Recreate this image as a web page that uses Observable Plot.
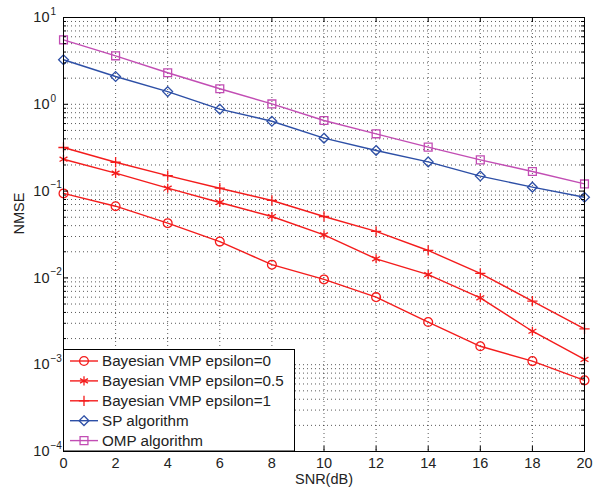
<!DOCTYPE html>
<html>
<head>
<meta charset="utf-8">
<script src="https://cdn.jsdelivr.net/npm/d3@7"></script>
<script src="https://cdn.jsdelivr.net/npm/@observablehq/plot@0.6"></script>
<style>
  html, body { margin: 0; padding: 0; background: #fff; }
  #chart { width: 599px; height: 487px; }
</style>
</head>
<body>
<div id="chart"></div>
<script>
// ---- data ----
const snr = [0, 2, 4, 6, 8, 10, 12, 14, 16, 18, 20];
const vmpEps0  = [0.094, 0.067, 0.0427, 0.0262, 0.0142, 0.0096, 0.0060, 0.0031, 0.00163, 0.0011, 0.00066];
const vmpEps05 = [0.233, 0.161, 0.108, 0.074, 0.051, 0.0313, 0.0166, 0.0109, 0.0059, 0.00243, 0.00115];
const vmpEps1  = [0.318, 0.215, 0.151, 0.108, 0.078, 0.051, 0.0343, 0.0207, 0.0113, 0.0054, 0.00259];
const spAlg    = [3.26, 2.09, 1.40, 0.879, 0.638, 0.407, 0.294, 0.217, 0.149, 0.111, 0.085];
const ompAlg   = [5.53, 3.62, 2.31, 1.51, 1.01, 0.65, 0.457, 0.321, 0.229, 0.168, 0.121];

const seriesNames = ["Bayesian VMP epsilon=0", "Bayesian VMP epsilon=0.5", "Bayesian VMP epsilon=1", "SP algorithm", "OMP algorithm"];
const seriesValues = [vmpEps0, vmpEps05, vmpEps1, spAlg, ompAlg];
const seriesColors = ["#f41c1c", "#f41c1c", "#f41c1c", "#2d4fa6", "#c24db4"];
const seriesSymbols = ["circle", "asterisk", "plus", "diamond2", "square2"];
const seriesR = [4.4, 4.3, 3.4, 4.4, 5.0];

const xTicks = [0, 2, 4, 6, 8, 10, 12, 14, 16, 18, 20];
const yDecades = [1e-4, 1e-3, 1e-2, 1e-1, 1e0, 1e1];
const yExponents = ["\u22124", "\u22123", "\u22122", "\u22121", "0", "1"];
const yMinor = [];
for (let e = -4; e < 1; e++) for (let m = 2; m <= 9; m++) yMinor.push(m * Math.pow(10, e));

// ---- table ----
const rows = [];
seriesNames.forEach((name, s) => {
  snr.forEach((x, i) => rows.push({series: name, s, snr: x, nmse: seriesValues[s][i]}));
});

const W = 599, H = 487, mL = 63, mR = 15, mT = 17, mB = 36;
const plotW = W - mL - mR, plotH = H - mT - mB;
const gridStyle = {stroke: "#000", strokeOpacity: 0.65, strokeDasharray: "1,3", strokeWidth: 1};

const marks = [
  Plot.ruleY(yMinor.concat(yDecades.slice(1, -1)), {y: d => d, ...gridStyle}),
  Plot.ruleX(xTicks.slice(1, -1), {x: d => d, ...gridStyle}),
];
seriesNames.forEach((name, s) => {
  const data = rows.filter(r => r.s === s);
  marks.push(Plot.line(data, {x: "snr", y: "nmse", stroke: seriesColors[s], strokeWidth: 1.4}));
  marks.push(Plot.dot(data, {x: "snr", y: "nmse", symbol: () => seriesSymbols[s], r: seriesR[s],
    stroke: seriesColors[s], fill: "none", strokeWidth: 1.3}));
});
marks.push(
  Plot.frame({stroke: "#000", strokeWidth: 1}),
  Plot.tickX(xTicks, {x: d => d, insetTop: plotH - 5, stroke: "#000"}),
  Plot.tickX(xTicks, {x: d => d, insetBottom: plotH - 5, stroke: "#000"}),
  Plot.tickY(yDecades, {y: d => d, insetRight: plotW - 5, stroke: "#000"}),
  Plot.tickY(yDecades, {y: d => d, insetLeft: plotW - 5, stroke: "#000"}),
  Plot.tickY(yMinor, {y: d => d, insetRight: plotW - 3, stroke: "#000"}),
  Plot.tickY(yMinor, {y: d => d, insetLeft: plotW - 3, stroke: "#000"}),
  Plot.axisX(xTicks, {tickSize: 0, tickPadding: 6, fontSize: 14.5, label: null, fill: "#222"}),
  Plot.text(yDecades, {y: d => d, frameAnchor: "left", text: () => "10", textAnchor: "end", dx: -14, fontSize: 14.5, fill: "#222"}),
  Plot.text(yDecades, {y: d => d, frameAnchor: "left", text: (d, i) => yExponents[i], textAnchor: "start", dx: -13, dy: -6, fontSize: 10, fill: "#222"}),
  Plot.text(["SNR(dB)"], {frameAnchor: "bottom", lineAnchor: "middle", text: d => d, dy: 27.5, fontSize: 14.5, fill: "#222"}),
  Plot.text(["NMSE"], {frameAnchor: "left", text: d => d, rotate: -90, dx: -44, fontSize: 14.5, fill: "#222"})
);

const chart = Plot.plot({
  width: W, height: H,
  marginLeft: mL, marginRight: mR, marginTop: mT, marginBottom: mB,
  style: {fontFamily: "'Liberation Sans', Arial, sans-serif", fontSize: "14.5px", background: "#fff", color: "#222"},
  x: {domain: [0, 20], axis: null, label: null},
  y: {type: "log", domain: [1e-4, 10], axis: null, label: null},
  marks
});
document.getElementById("chart").appendChild(chart);

// ---- legend (inside the axes, bottom-left) ----
const svg = d3.select(chart);
const lg = svg.append("g").attr("font-family", "'Liberation Sans', Arial, sans-serif").attr("text-anchor", "start");
const lx = mL + 0.5, ly = 349.5, lw = 231, lh = H - mB - 349.5;
lg.append("rect").attr("x", lx).attr("y", ly).attr("width", lw).attr("height", lh)
  .attr("fill", "#fff").attr("stroke", "#000").attr("stroke-width", 1);
const symMap = {circle: d3.symbolCircle, asterisk: d3.symbolAsterisk, plus: d3.symbolPlus, diamond2: d3.symbolDiamond2, square2: d3.symbolSquare2};
seriesNames.forEach((name, s) => {
  const yy = 361 + s * 19.9;
  lg.append("line").attr("x1", 70).attr("x2", 98).attr("y1", yy).attr("y2", yy)
    .attr("stroke", seriesColors[s]).attr("stroke-width", 1.4);
  lg.append("path").attr("d", d3.symbol(symMap[seriesSymbols[s]], Math.PI * seriesR[s] * seriesR[s])())
    .attr("transform", `translate(84,${yy})`).attr("fill", "none")
    .attr("stroke", seriesColors[s]).attr("stroke-width", 1.3);
  lg.append("text").attr("x", 102).attr("y", yy).attr("dy", "0.35em")
    .attr("text-anchor", "start")
    .attr("font-size", 15.2).attr("fill", "#222").text(name);
});
</script>
</body>
</html>
